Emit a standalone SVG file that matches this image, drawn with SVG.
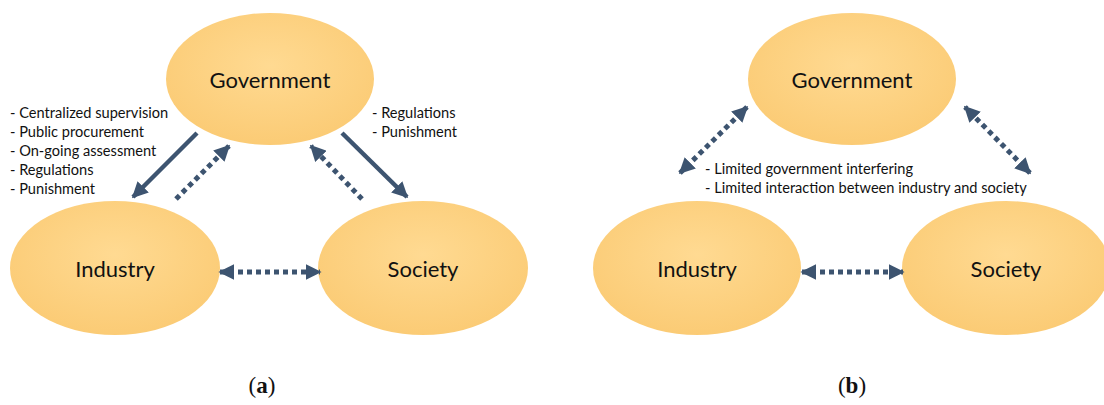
<svg xmlns="http://www.w3.org/2000/svg" width="1104" height="405" viewBox="0 0 1104 405">
<style>
.node{fill:#FDD386;}
.lbl{font-family:"Lato","Liberation Sans",sans-serif;font-size:22px;fill:#111;text-anchor:middle;dominant-baseline:central;}
.note{font-family:"Lato","Liberation Sans",sans-serif;font-size:14.6px;fill:#111;}
.solid{stroke:#3D5470;stroke-width:4.5;fill:none;}
.dot{stroke:#3D5470;stroke-width:5;fill:none;stroke-dasharray:5 4;}
.cap{font-family:"Liberation Serif",serif;font-size:23px;fill:#111;text-anchor:middle;}
</style>
<defs>
<radialGradient id="g" cx="50%" cy="40%" r="60%">
<stop offset="0" stop-color="#FFDA92"/>
<stop offset="1" stop-color="#FBCB75"/>
</radialGradient>
<marker id="ah" viewBox="0 0 10 10" refX="9" refY="5" markerWidth="16" markerHeight="16" markerUnits="userSpaceOnUse" orient="auto-start-reverse">
<path d="M0,0 L10,5 L0,10 Z" fill="#3D5470"/>
</marker>
</defs>
<g id="gov-a"><ellipse cx="270" cy="79" rx="104" ry="66" fill="url(#g)"/><text class="lbl" x="270" y="79">Government</text></g>
<g id="ind-a"><ellipse cx="115" cy="268" rx="105" ry="67" fill="url(#g)"/><text class="lbl" x="115" y="268">Industry</text></g>
<g id="soc-a"><ellipse cx="423" cy="268" rx="105" ry="67" fill="url(#g)"/><text class="lbl" x="423" y="268">Society</text></g>
<g id="gov-b"><ellipse cx="852" cy="79" rx="104" ry="66" fill="url(#g)"/><text class="lbl" x="852" y="79">Government</text></g>
<g id="ind-b"><ellipse cx="697" cy="268" rx="104" ry="67" fill="url(#g)"/><text class="lbl" x="697" y="268">Industry</text></g>
<g id="soc-b"><ellipse cx="1006" cy="268" rx="104" ry="67" fill="url(#g)"/><text class="lbl" x="1006" y="268">Society</text></g>
<g id="connectors">
<line class="solid" x1="197" y1="133" x2="133" y2="197" marker-end="url(#ah)"/>
<line class="dot" x1="176" y1="199" x2="229" y2="146" marker-end="url(#ah)"/>
<line class="solid" x1="342" y1="133" x2="407" y2="197" marker-end="url(#ah)"/>
<line class="dot" x1="362" y1="199" x2="311" y2="146" marker-end="url(#ah)"/>
<line class="dot" x1="220" y1="272" x2="320" y2="272" marker-start="url(#ah)" marker-end="url(#ah)"/>
<line class="dot" x1="680" y1="173" x2="747" y2="107" marker-start="url(#ah)" marker-end="url(#ah)"/>
<line class="dot" x1="1030" y1="173" x2="965" y2="107" marker-start="url(#ah)" marker-end="url(#ah)"/>
<line class="dot" x1="802" y1="272" x2="903" y2="272" marker-start="url(#ah)" marker-end="url(#ah)"/>
</g>
<g id="notes">
<text class="note" x="10" y="118">- Centralized supervision</text>
<text class="note" x="10" y="137">- Public procurement</text>
<text class="note" x="10" y="156">- On-going assessment</text>
<text class="note" x="10" y="175">- Regulations</text>
<text class="note" x="10" y="194">- Punishment</text>
<text class="note" x="372" y="118">- Regulations</text>
<text class="note" x="372" y="137">- Punishment</text>
<text class="note" x="705" y="174">- Limited government interfering</text>
<text class="note" x="705" y="193">- Limited interaction between industry and society</text>
</g>
<text class="cap" x="262" y="393">(<tspan font-weight="bold">a</tspan>)</text>
<text class="cap" x="852" y="393">(<tspan font-weight="bold">b</tspan>)</text>
</svg>
